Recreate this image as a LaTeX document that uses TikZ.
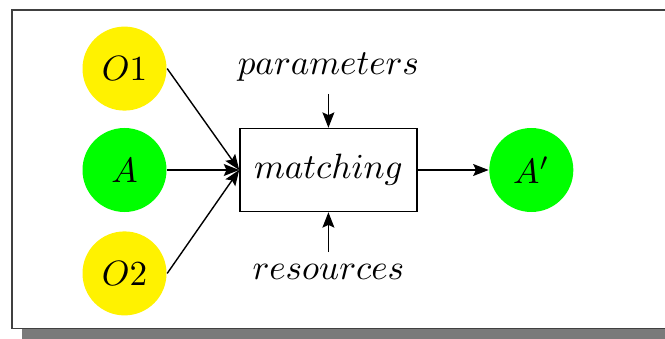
\documentclass[tikz,border=0pt]{standalone}
\usetikzlibrary{arrows.meta,positioning}

\begin{document}
\begin{tikzpicture}[
  object/.style={circle,minimum size=8.4mm,inner sep=1pt},
  other/.style={object,fill=yellow},
  target/.style={object,fill=green},
  process/.style={draw,minimum width=17.7mm,minimum height=8.3mm},
  flow/.style={-{Stealth[length=4.4pt,width=3.4pt,inset=0.8pt]}}
]
  \useasboundingbox (-1.245,1.70) rectangle (5.405,-1.68);
  % frame with shadow
  \fill[black!52] (-1.02,1.50) rectangle (5.8,-1.69);
  \draw[draw=black!75,fill=white] (-1.125,1.60) rectangle (5.7,-1.585);

  \node[target] (A) {$A$};
  \node[other,above=1.6mm of A] (O1) {$O1$};
  \node[other,below=1.8mm of A] (O2) {$O2$};
  \node[process,right=7.2mm of A] (match) {$matching$};
  \node[target,right=7.1mm of match] (A2) {$A'$};
  \node[above=3.4mm of match] (param) {$parameters$};
  \node[below=4mm of match] (res) {$resources$};

  \draw[flow] (O1.east) -- (match.west);
  \draw[flow] (A.east) -- (match.west);
  \draw[flow] (O2.east) -- (match.west);
  \draw[flow] (param) -- (match);
  \draw[flow] (res) -- (match);
  \draw[flow] (match) -- (A2);
\end{tikzpicture}
\end{document}
